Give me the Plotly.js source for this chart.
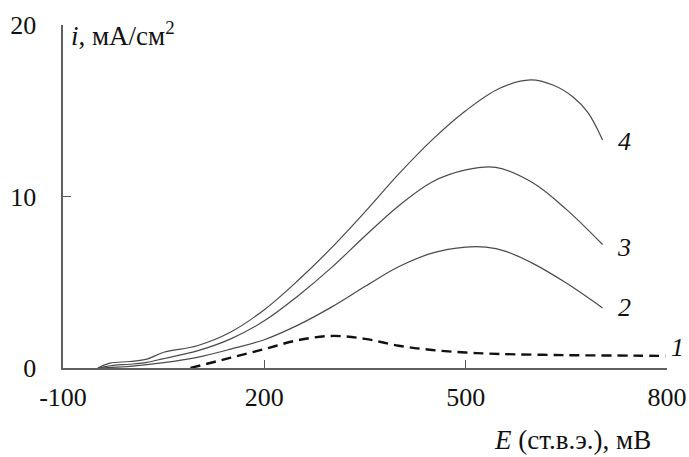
<!DOCTYPE html>
<html>
<head>
<meta charset="utf-8">
<script src="https://cdn.plot.ly/plotly-3.0.1.min.js"></script>
<style>html,body{margin:0;padding:0;background:#fff;}#chart{width:689px;height:457px;}</style>
</head>
<body>
<div id="chart"></div>
<script>
// Curve 4
var x4 = [-48, -30, 0, 25, 50, 100, 150, 200, 250, 300, 350, 400, 450, 500, 550, 597, 630, 660, 682, 704];
var y4 = [0, 0.28, 0.38, 0.52, 0.92, 1.3, 2.1, 3.4, 5.1, 7.0, 9.1, 11.3, 13.3, 15.0, 16.3, 16.8, 16.5, 15.8, 14.9, 13.3];
// Curve 3
var x3 = [-48, -25, 0, 25, 50, 100, 150, 200, 250, 300, 350, 400, 450, 500, 545, 600, 650, 704];
var y3 = [0, 0.15, 0.22, 0.33, 0.55, 1.0, 1.7, 2.75, 4.2, 5.85, 7.7, 9.45, 10.85, 11.55, 11.7, 10.8, 9.25, 7.2];
// Curve 2
var x2 = [-48, 0, 50, 100, 150, 200, 250, 300, 350, 400, 450, 500, 530, 560, 600, 650, 704];
var y2 = [0, 0.1, 0.31, 0.62, 1.1, 1.65, 2.5, 3.55, 4.75, 5.9, 6.7, 7.05, 7.05, 6.8, 6.1, 4.95, 3.5];
// Curve 1 (dashed)
var x1 = [90, 125, 150, 200, 250, 300, 350, 400, 450, 500, 550, 650, 750, 798];
var y1 = [0, 0.35, 0.6, 1.1, 1.62, 1.87, 1.7, 1.3, 1.05, 0.9, 0.82, 0.75, 0.72, 0.7];

var xTicks = [-100, 200, 500, 800];
var yTicks = [0, 10, 20];
var curveLabels = ['4', '3', '2', '1'];

var serif = '"Liberation Serif", "Times New Roman", serif';
var thin = {color: '#4a4a4a', width: 1.2, shape: 'spline', smoothing: 1};

var traces = [
  {x: x4, y: y4, mode: 'lines', line: thin, hoverinfo: 'none'},
  {x: x3, y: y3, mode: 'lines', line: thin, hoverinfo: 'none'},
  {x: x2, y: y2, mode: 'lines', line: thin, hoverinfo: 'none'},
  {x: x1, y: y1, mode: 'lines', line: {color: '#111', width: 2.4, dash: '10px,6px', shape: 'spline', smoothing: 1}, hoverinfo: 'none'}
];

var labFont = {family: serif, size: 26, color: '#111'};
var titleFont = {family: serif, size: 27, color: '#111'};
var layout = {
  width: 689, height: 457,
  margin: {l: 63, r: 22, t: 25, b: 89},
  paper_bgcolor: '#fff', plot_bgcolor: '#fff',
  showlegend: false,
  font: {family: serif, size: 26, color: '#111'},
  xaxis: {
    range: [-100, 800], tickvals: xTicks, ticktext: xTicks.map(String),
    ticks: 'inside', ticklen: 8, tickwidth: 1.2, tickcolor: '#555',
    showline: true, linecolor: '#606060', linewidth: 1.6,
    showgrid: false, zeroline: false, tickfont: labFont, ticklabelstandoff: 5
  },
  yaxis: {
    range: [0, 20], tickvals: yTicks, ticktext: yTicks.map(String),
    ticks: 'inside', ticklen: 8, tickwidth: 1.2, tickcolor: '#555',
    showline: true, linecolor: '#606060', linewidth: 1.6,
    showgrid: false, zeroline: false, tickfont: labFont, ticklabelstandoff: 20
  },
  annotations: [
    {xref: 'paper', yref: 'paper', x: 0.01, y: 0.975, xanchor: 'left', yanchor: 'middle', showarrow: false,
     text: '<i>i</i>, мА/см<sup>2</sup>', font: titleFont},
    {xref: 'paper', yref: 'paper', x: 0.843, y: -0.21, xanchor: 'center', yanchor: 'middle', showarrow: false,
     text: '<i>E</i> (ст.в.э.), мВ', font: titleFont},
    {xref: 'x', yref: 'y', x: 736, y: 13.2, xanchor: 'center', yanchor: 'middle', showarrow: false, text: '<i>' + curveLabels[0] + '</i>', font: labFont},
    {xref: 'x', yref: 'y', x: 736, y: 7.05, xanchor: 'center', yanchor: 'middle', showarrow: false, text: '<i>' + curveLabels[1] + '</i>', font: labFont},
    {xref: 'x', yref: 'y', x: 736, y: 3.5, xanchor: 'center', yanchor: 'middle', showarrow: false, text: '<i>' + curveLabels[2] + '</i>', font: labFont},
    {xref: 'paper', yref: 'paper', x: 1.018, y: 0.061, xanchor: 'center', yanchor: 'middle', showarrow: false, text: '<i>' + curveLabels[3] + '</i>', font: labFont}
  ]
};

Plotly.newPlot('chart', traces, layout, {staticPlot: true, displayModeBar: false});
</script>
</body>
</html>
